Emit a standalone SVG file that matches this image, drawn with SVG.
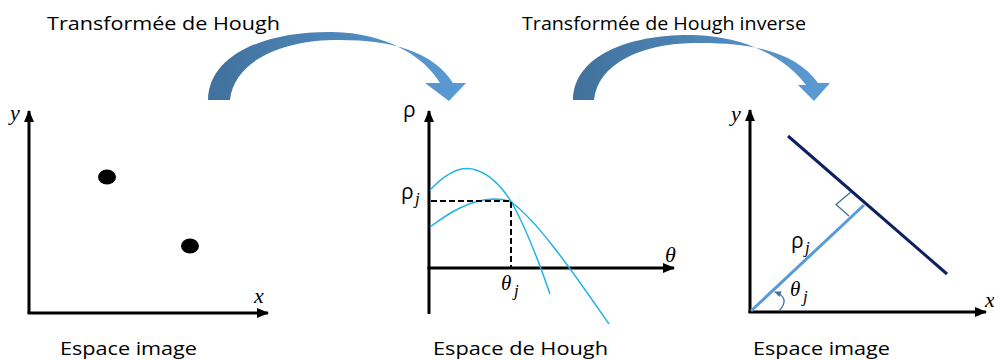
<svg xmlns="http://www.w3.org/2000/svg" width="994" height="360" viewBox="0 0 994 360">
<style>
.lbl{font-family:"Open Sans","Liberation Sans",sans-serif;font-size:18px;fill:#000}
.ax{stroke:#000;stroke-width:3;fill:none}
.mi{font-family:"Liberation Serif","DejaVu Serif",serif;font-style:italic;fill:#000}
.sym{font-family:"Open Sans","DejaVu Sans",sans-serif;fill:#000}
.curve{stroke:#1fb3e8;stroke-width:1.5;fill:none}
.dash{stroke:#000;stroke-width:2;stroke-dasharray:6 3;fill:none}
</style>
<defs>
<marker id="ah" markerUnits="userSpaceOnUse" markerWidth="12" markerHeight="10" refX="11" refY="5" orient="auto">
<path d="M0,0 L12,5 L0,10 z" fill="#000"/>
</marker>
<marker id="sah" markerUnits="userSpaceOnUse" markerWidth="7" markerHeight="6" refX="6" refY="3" orient="auto">
<path d="M0,0 L7,3 L0,6 z" fill="#41719c"/>
</marker>
<linearGradient id="bg" x1="0" y1="0" x2="1" y2="0">
<stop offset="0" stop-color="#41719c"/>
<stop offset="1" stop-color="#5b9bd5"/>
</linearGradient>
</defs>
<rect width="994" height="360" fill="#fff"/>

<g id="title1"><text class="lbl" x="47" y="30" textLength="233" lengthAdjust="spacingAndGlyphs">Transformée de Hough</text></g>
<g id="title2"><text class="lbl" x="522" y="30" textLength="284" lengthAdjust="spacingAndGlyphs">Transformée de Hough inverse</text></g>

<g id="arrow1">
<path d="M208,100 C209,52 270,31 333,32 C385,33 423,55 440,83 L425,83 L449,101 L466,83 L453,83 C432,50 388,39 333,40 C280,41 234,62 230,100 Z" fill="url(#bg)"/>
</g>
<g id="arrow2">
<path d="M573,100 C574,54 632,34 693,35 C745,36 786,58 806,85 L798,85 L814,101 L830,83 L818,83 C796,52 752,42 693,43 C640,44 598,64 594,100 Z" fill="url(#bg)"/>
</g>

<g id="panel-image-space">
<line class="ax" x1="29" y1="313" x2="29" y2="111" marker-end="url(#ah)"/>
<line class="ax" x1="27.5" y1="313" x2="268" y2="313" marker-end="url(#ah)"/>
<text class="mi" x="10" y="120" font-size="22">y</text>
<text class="mi" x="254" y="303" font-size="22">x</text>
<ellipse cx="107" cy="177" rx="9" ry="7.5" fill="#000"/>
<ellipse cx="190" cy="246" rx="9" ry="7.5" fill="#000"/>
<text class="lbl" x="60" y="355" textLength="137" lengthAdjust="spacingAndGlyphs">Espace image</text>
</g>

<g id="panel-hough-space">
<line class="ax" x1="429" y1="314" x2="429" y2="111" marker-end="url(#ah)"/>
<line class="ax" x1="427.5" y1="268" x2="674" y2="268" marker-end="url(#ah)"/>
<text class="sym" x="403" y="117" font-size="21">ρ</text>
<text class="mi" x="665" y="262" font-size="22">θ</text>
<path class="curve" d="M430,190 C446,173 462,165 476,170 C492,175 504,190 512,203 C526,228 540,265 550,294"/>
<path class="curve" d="M430,227 C450,212 470,200 493,199 C503,199 507,200 511,202 C540,222 585,290 609,324"/>
<path class="dash" d="M431,201 L511,201 L511,267"/>
<text class="sym" x="401" y="199" font-size="21">ρ</text>
<text class="mi" x="415" y="204" font-size="17">j</text>
<text class="mi" x="501" y="290" font-size="21">θ</text>
<text class="mi" x="514" y="296" font-size="17">j</text>
<text class="lbl" x="433" y="355" textLength="175" lengthAdjust="spacingAndGlyphs">Espace de Hough</text>
</g>

<g id="panel-inverse">
<line class="ax" x1="750" y1="313" x2="750" y2="110" marker-end="url(#ah)"/>
<line class="ax" x1="748.5" y1="312" x2="986" y2="312" marker-end="url(#ah)"/>
<text class="mi" x="731" y="121" font-size="22">y</text>
<text class="mi" x="985" y="307" font-size="22">x</text>
<line x1="788" y1="136" x2="947" y2="274" stroke="#0e2060" stroke-width="3"/>
<line x1="751" y1="311" x2="864" y2="205" stroke="#5b9bd5" stroke-width="3"/>
<path d="M849,216 L836,204.5 L851,192" fill="none" stroke="#41719c" stroke-width="1.3"/>
<path d="M779,311 Q791,298 775,292" fill="none" stroke="#41719c" stroke-width="1.3" marker-end="url(#sah)"/>
<text class="sym" x="791" y="248" font-size="21">ρ</text>
<text class="mi" x="805" y="253" font-size="17">j</text>
<text class="mi" x="790" y="296" font-size="21">θ</text>
<text class="mi" x="803" y="302" font-size="17">j</text>
<text class="lbl" x="753" y="355" textLength="137" lengthAdjust="spacingAndGlyphs">Espace image</text>
</g>
</svg>
